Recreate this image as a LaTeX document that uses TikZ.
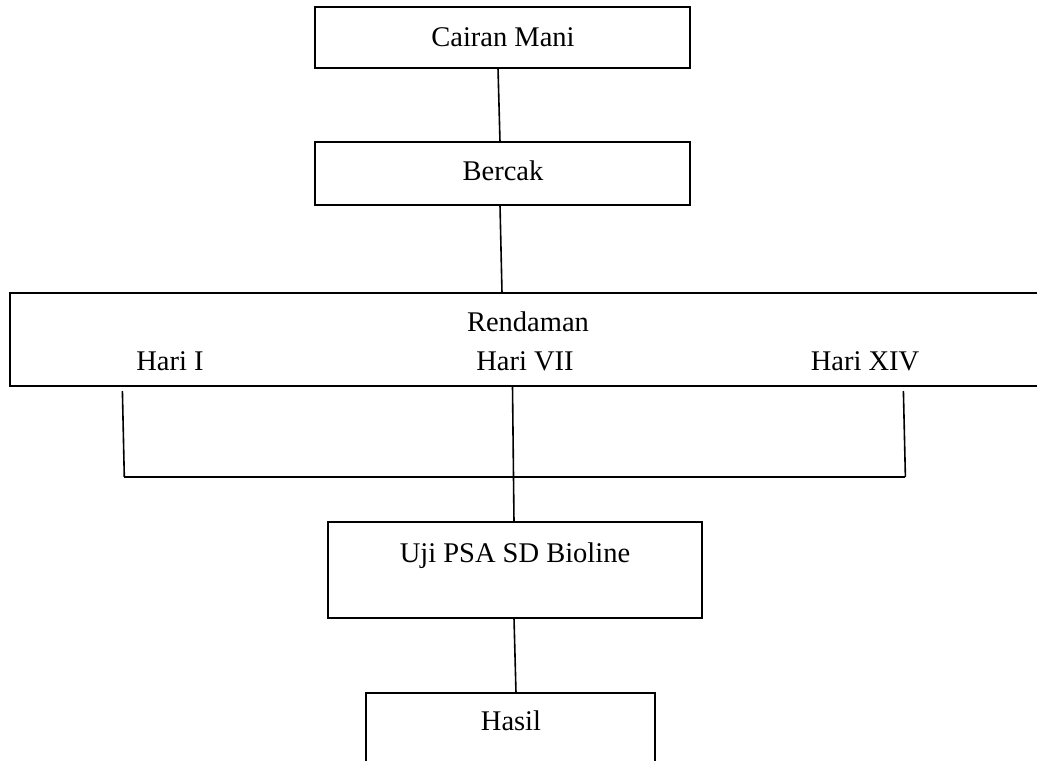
\documentclass[tikz,border=0pt]{standalone}
\usepackage{fontspec}
\setmainfont{Liberation Serif}
\begin{document}
\begin{tikzpicture}[x=1pt,y=-1pt,
  box/.style={draw=black, line width=2.6pt, inner sep=0pt, outer sep=0pt, anchor=north west, fill=none},
  lbl/.style={inner sep=0pt, anchor=base, font=\fontsize{28.5}{34}\selectfont},
  conn/.style={draw=black, line width=1.6pt},
  bar/.style={draw=black, line width=2.4pt}]
\useasboundingbox (0,0) rectangle (1037,761);
\clip (0,0) rectangle (1037,761);
% boxes
\node[box, minimum width=375pt, minimum height=61pt] (cairan) at (315,7) {};
\node[box, minimum width=375pt, minimum height=63pt] (bercak) at (315,142) {};
\node[box, minimum width=1045pt, minimum height=93pt] (rendaman) at (10,293) {};
\node[box, minimum width=374pt, minimum height=96pt] (uji) at (328,522) {};
\node[box, minimum width=289pt, minimum height=100pt] (hasil) at (366,693) {};
% labels
\node[lbl] (tcairan) at (503,46) {Cairan Mani};
\node[lbl] (tbercak) at (503,180) {Bercak};
\node[lbl] (trend) at (528,331) {Rendaman};
\node[lbl] (th1) at (170,370) {Hari I};
\node[lbl] (th7) at (525,370) {Hari VII};
\node[lbl] (th14) at (865,370) {Hari XIV};
\node[lbl] (tuji) at (515,562) {Uji PSA SD Bioline};
\node[lbl] (thasil) at (511,730) {Hasil};
% connector ends
\coordinate (lt) at (122.4,391);
\coordinate (lb) at (124.3,477);
\coordinate (rt) at (903.4,391);
\coordinate (rb) at (905.4,477);
% connectors
\draw[conn] ([xshift=-4.5pt]cairan.south) -- ([xshift=-2.5pt]bercak.north);
\draw[conn] ([xshift=-2.5pt]bercak.south) -- ([xshift=-30.5pt]rendaman.north);
\draw[conn] (lt) -- (lb);
\draw[conn] (rt) -- (rb);
\draw[bar] (lb) -- (rb);
\draw[conn] ([xshift=-20pt]rendaman.south) -- ([xshift=-1pt]uji.north);
\draw[conn] ([xshift=-1pt]uji.south) -- ([xshift=5.5pt]hasil.north);
\end{tikzpicture}
\end{document}
